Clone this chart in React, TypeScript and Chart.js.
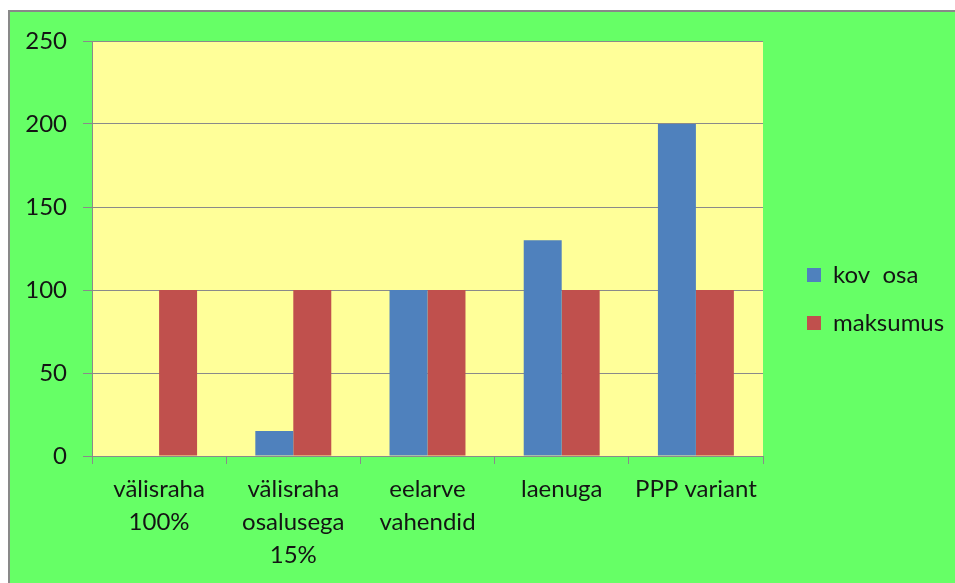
import React, { useEffect, useRef } from "react";
import { Chart, registerables } from "chart.js";

Chart.register(...registerables);

const categories: string[][] = [
  ["välisraha", "100%"],
  ["välisraha", "osalusega", "15%"],
  ["eelarve", "vahendid"],
  ["laenuga"],
  ["PPP variant"],
];
const seriesNames: string[] = ["kov  osa", "maksumus"];
const kovOsa: number[] = [0, 15, 100, 130, 200];
const maksumus: number[] = [100, 100, 100, 100, 100];
const yTicks: number[] = [0, 50, 100, 150, 200, 250];

const FONT = "Lato, 'Open Sans', sans-serif";
const TEXT = "#141414";
const GRID = "#8a8a8a";

const bgPlugin = {
  id: "bgPanel",
  beforeDraw(chart: any) {
    const { ctx, width, height, chartArea } = chart;
    ctx.save();
    ctx.fillStyle = "#66FF66";
    ctx.fillRect(10, 12, width - 10, height - 12);
    ctx.fillStyle = "#898989";
    ctx.fillRect(8, 10, width - 8, 2);
    ctx.fillRect(8, 10, 2, height - 10);
    ctx.fillStyle = "#FFFF99";
    ctx.fillRect(
      chartArea.left,
      chartArea.top,
      chartArea.right - chartArea.left,
      chartArea.bottom - chartArea.top
    );
    ctx.restore();
  },
};

export default function App() {
  const ref = useRef<HTMLCanvasElement | null>(null);

  useEffect(() => {
    if (!ref.current) return;
    const chart = new Chart(ref.current, {
      type: "bar",
      data: {
        labels: categories,
        datasets: [
          {
            label: seriesNames[0],
            data: kovOsa,
            backgroundColor: "#4F81BD",
            borderWidth: 0,
          },
          {
            label: seriesNames[1],
            data: maksumus,
            backgroundColor: "#C0504D",
            borderWidth: 0,
          },
        ],
      },
      options: {
        responsive: false,
        animation: false,
        layout: { padding: { left: 10, top: 15, right: 2, bottom: 0 } },
        datasets: {
          bar: { categoryPercentage: 0.566, barPercentage: 1 },
        },
        plugins: {
          tooltip: { enabled: false },
          legend: {
            position: "right",
            maxWidth: 170,
            labels: {
              boxWidth: 14,
              boxHeight: 14,
              padding: 24,
              color: TEXT,
              font: { family: FONT, size: 24 },
            },
          },
        },
        scales: {
          x: {
            grid: {
              drawOnChartArea: false,
              tickLength: 8,
              color: GRID,
              offset: true,
            },
            border: { color: GRID, width: 1 },
            ticks: {
              color: TEXT,
              padding: 9,
              maxRotation: 0,
              autoSkip: false,
              font: { family: FONT, size: 24, lineHeight: 1.375 },
            },
            afterFit(scale: any) {
              scale.height = 127;
            },
          },
          y: {
            min: yTicks[0],
            max: yTicks[yTicks.length - 1],
            grid: { color: GRID, tickLength: 9, lineWidth: 1 },
            border: { color: GRID, width: 1 },
            ticks: {
              stepSize: yTicks[1] - yTicks[0],
              color: TEXT,
              padding: 16,
              font: { family: FONT, size: 24 },
            },
            afterFit(scale: any) {
              scale.width = 82;
            },
          },
          gapRight: {
            type: "linear",
            position: "right",
            display: true,
            grid: { display: false, drawTicks: false },
            border: { display: false },
            ticks: { display: false },
            afterFit(scale: any) {
              scale.width = 20;
            },
          },
          gapTop: {
            type: "linear",
            position: "top",
            display: true,
            grid: { display: false, drawTicks: false },
            border: { display: false },
            ticks: { display: false },
            afterFit(scale: any) {
              scale.height = 26;
            },
          },
        },
      },
      plugins: [bgPlugin],
    } as any);
    return () => chart.destroy();
  }, []);

  return (
    <div style={{ position: "absolute", left: 0, top: 0, width: 955, height: 583 }}>
      <canvas ref={ref} width={955} height={583} />
    </div>
  );
}
